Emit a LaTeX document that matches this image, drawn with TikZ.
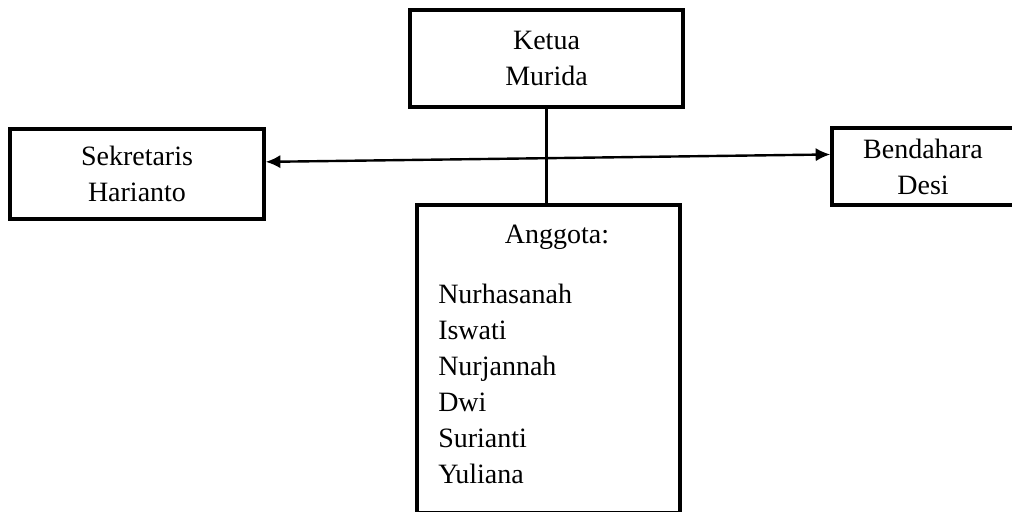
\documentclass[tikz,border=0pt]{standalone}
\usepackage{fontspec}
\setmainfont{Liberation Serif}
\usetikzlibrary{arrows.meta,calc}
\tikzset{
  orgbox/.style={draw=black, line width=2.5pt, align=center, inner sep=0pt, font=\fontsize{21}{27}\selectfont},
  member/.style={anchor=base west, inner sep=0pt, font=\fontsize{21}{27}\selectfont},
  heading/.style={anchor=base, inner sep=0pt, font=\fontsize{21}{27}\selectfont},
  link/.style={draw=black, line width=2.5pt},
  linkarr/.style={{Latex[length=11pt,width=10pt]}-{Latex[length=11pt,width=10pt]}, draw=black, line width=1.8pt}
}

\begin{document}
\begin{tikzpicture}[x=0.75pt, y=-0.75pt]
  \useasboundingbox (0,0) rectangle (1012,511);
  \clip (0,0) rectangle (1012,511);

  \node[orgbox, minimum width=204.75pt, minimum height=72.75pt] (ketua) at (546.5,58.5) {Ketua\\Murida};
  \node[orgbox, minimum width=190.5pt, minimum height=67.5pt] (sek) at (137,174) {Sekretaris\\Harianto};
  \node[orgbox, minimum width=136.5pt, minimum height=57.75pt] (ben) at (923,166.5) {Bendahara\\Desi};
  \node[orgbox, minimum width=197.25pt, minimum height=231pt] (anggota) at (548.5,359) {};

  \node[heading] (judul) at (557,243) {Anggota:};
  \foreach \nm [count=\i] in {Nurhasanah,Iswati,Nurjannah,Dwi,Surianti,Yuliana}
    \node[member] (m\i) at (438,{267+36*\i}) {\nm};

  \draw[linkarr] ($(sek.north east)!0.37!(sek.south east)$) -- ($(ben.north west)!0.35!(ben.south west)$);
  \draw[link] (ketua.south) -- (ketua.south |- anggota.north);
\end{tikzpicture}
\end{document}
